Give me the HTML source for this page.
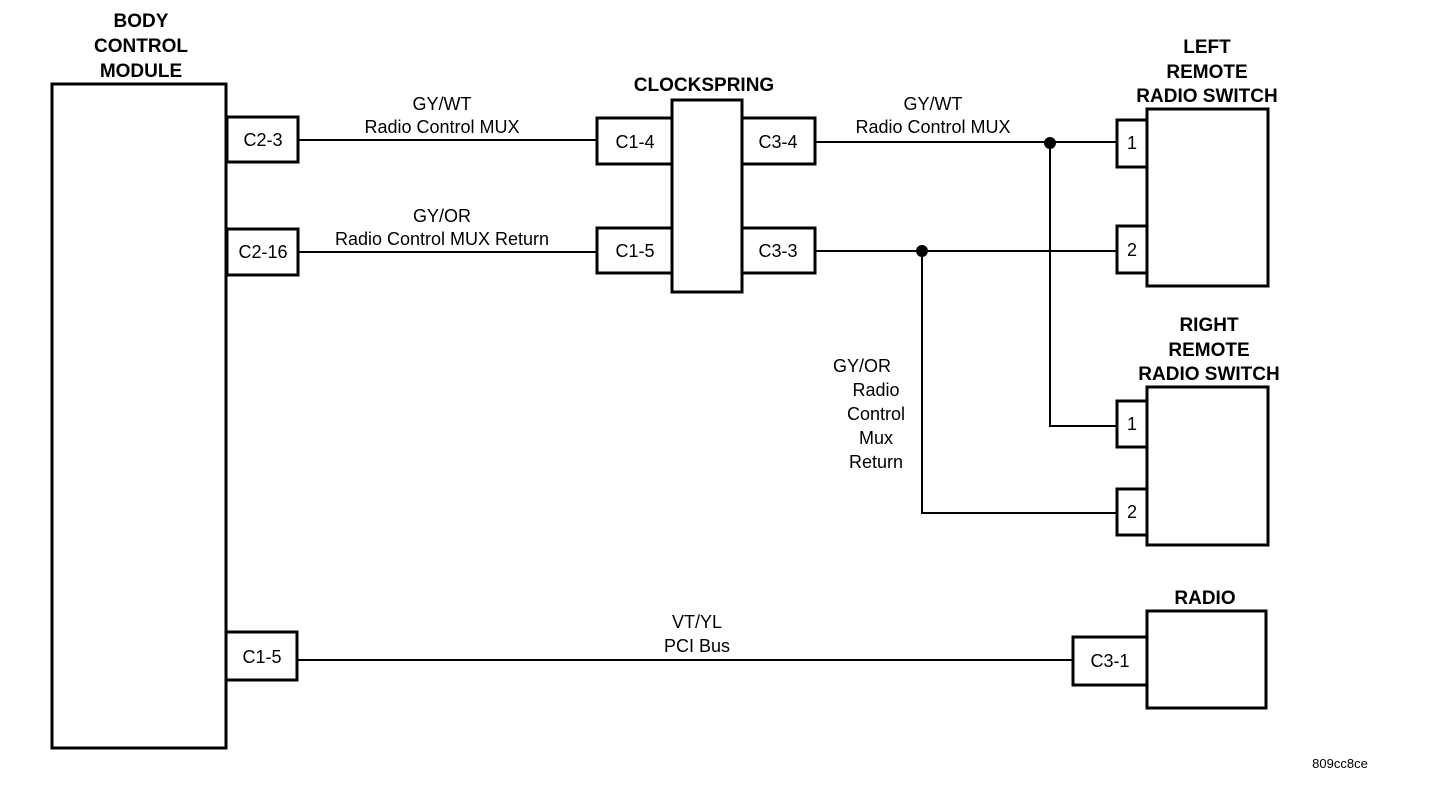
<!DOCTYPE html>
<html><head><style>
html,body{margin:0;padding:0;background:#fff;}
svg{display:block}
text{font-family:"Liberation Sans",Arial,sans-serif;fill:#000}
.b{font-weight:bold;font-size:19px}
.n{font-size:18px}
</style></head><body>
<svg width="1440" height="806" viewBox="0 0 1440 806">
<g fill="#fff" stroke="#000" stroke-width="3">
<rect x="52" y="84" width="174" height="664"/>
<rect x="227" y="117" width="71" height="45"/>
<rect x="227" y="229" width="71" height="46"/>
<rect x="226" y="632" width="71" height="48"/>
<rect x="672" y="100" width="70" height="192"/>
<rect x="597" y="118" width="75" height="46"/>
<rect x="597" y="228" width="75" height="45"/>
<rect x="742" y="118" width="73" height="46"/>
<rect x="742" y="228" width="73" height="45"/>
<rect x="1147" y="109" width="121" height="177"/>
<rect x="1117" y="120" width="30" height="47"/>
<rect x="1117" y="226" width="30" height="47"/>
<rect x="1147" y="387" width="121" height="158"/>
<rect x="1117" y="401" width="30" height="46"/>
<rect x="1117" y="489" width="30" height="46"/>
<rect x="1147" y="611" width="119" height="97"/>
<rect x="1073" y="637" width="74" height="48"/>
</g>
<g stroke="#000" stroke-width="2" fill="none">
<line x1="298" y1="140" x2="597" y2="140"/>
<line x1="298" y1="252" x2="597" y2="252"/>
<line x1="815" y1="142" x2="1117" y2="142"/>
<line x1="815" y1="251" x2="1117" y2="251"/>
<polyline points="1050,143 1050,426 1117,426"/>
<polyline points="922,251 922,513 1117,513"/>
<line x1="297" y1="660" x2="1073" y2="660"/>
</g>
<circle cx="1050" cy="143" r="6"/>
<circle cx="922" cy="251" r="6"/>
<g class="b" text-anchor="middle">
<text x="141" y="27">BODY</text>
<text x="141" y="52">CONTROL</text>
<text x="141" y="77">MODULE</text>
<text x="704" y="91">CLOCKSPRING</text>
<text x="1207" y="53">LEFT</text>
<text x="1207" y="78">REMOTE</text>
<text x="1207" y="102">RADIO SWITCH</text>
<text x="1209" y="331">RIGHT</text>
<text x="1209" y="356">REMOTE</text>
<text x="1209" y="380">RADIO SWITCH</text>
<text x="1205" y="604">RADIO</text>
</g>
<g class="n" text-anchor="middle">
<text x="263" y="146">C2-3</text>
<text x="263" y="258">C2-16</text>
<text x="262" y="663">C1-5</text>
<text x="635" y="148">C1-4</text>
<text x="635" y="257">C1-5</text>
<text x="778" y="148">C3-4</text>
<text x="778" y="257">C3-3</text>
<text x="1132" y="149">1</text>
<text x="1132" y="256">2</text>
<text x="1132" y="430">1</text>
<text x="1132" y="518">2</text>
<text x="1110" y="667">C3-1</text>
<text x="442" y="110">GY/WT</text>
<text x="442" y="133">Radio Control MUX</text>
<text x="442" y="222">GY/OR</text>
<text x="442" y="245">Radio Control MUX Return</text>
<text x="933" y="110">GY/WT</text>
<text x="933" y="133">Radio Control MUX</text>
<text x="862" y="372">GY/OR</text>
<text x="876" y="396">Radio</text>
<text x="876" y="420">Control</text>
<text x="876" y="444">Mux</text>
<text x="876" y="468">Return</text>
<text x="697" y="628">VT/YL</text>
<text x="697" y="652">PCI Bus</text>
</g>
<text x="1340" y="768" font-size="13" text-anchor="middle">809cc8ce</text>
</svg>
</body></html>
